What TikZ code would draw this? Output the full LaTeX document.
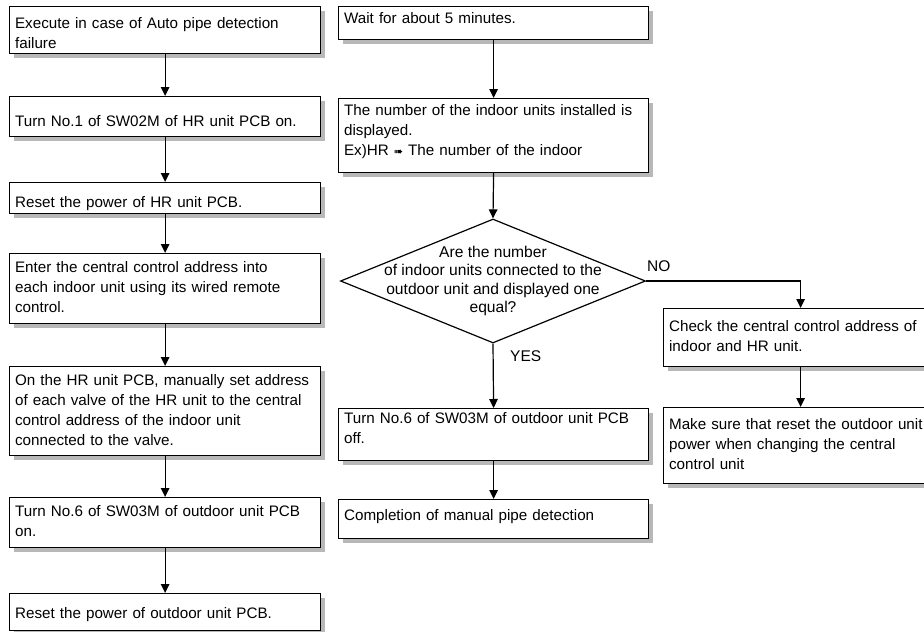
\documentclass[tikz,border=0pt]{standalone}
\usepackage{fontspec}
\setmainfont{Liberation Sans}
\newfontfamily\symfont{DejaVu Sans}
\usetikzlibrary{shapes.geometric,shadows,arrows.meta}
\newcommand\boxlines[2][0pt]{\raisebox{#1}[\height][\depth]{\begin{tabular}{@{}l@{}}#2\end{tabular}}}
\begin{document}
\begin{tikzpicture}[x=1pt,y=-1pt,
  box/.style={draw, line width=1.2pt, fill=white, inner xsep=5.5pt, inner ysep=0pt,
    align=left, anchor=north west,
    drop shadow={shadow xshift=4pt, shadow yshift=-4pt, fill=black!28, opacity=1},
    font=\fontsize{15.2}{20}\selectfont},
  lbox/.style={box, minimum width=311pt, text width=300pt},
  mbox/.style={box, minimum width=310pt, text width=299pt},
  rbox/.style={box, minimum width=274pt, text width=263pt},
  arr/.style={line width=1.2pt, -{Triangle[length=9pt,width=8.5pt]}},
  lbl/.style={font=\fontsize{15.5}{19}\selectfont, inner sep=0pt}
]
\useasboundingbox (0,0) rectangle (924,632);
% left column
\node[lbox, minimum height=47pt] (b1) at (9,6) {\boxlines[-4pt]{Execute in case of Auto pipe detection\\failure}};
\node[lbox, minimum height=40pt] (b2) at (9,96) {\boxlines[-6pt]{Turn No.1 of SW02M of HR unit PCB on.}};
\node[lbox, minimum height=31pt] (b3) at (9,182) {\boxlines[-5pt]{Reset the power of HR unit PCB.}};
\node[lbox, minimum height=70pt] (b4) at (9,253) {\boxlines{Enter the central control address into\\each indoor unit using its wired remote\\control.}};
\node[lbox, minimum height=89pt] (b5) at (9,366) {\boxlines{On the HR unit PCB, manually set address\\of each valve of the HR unit to the central\\control address of the indoor unit\\connected to the valve.}};
\node[lbox, minimum height=50pt] (b6) at (9,497) {\boxlines{Turn No.6 of SW03M of outdoor unit PCB\\on.}};
\node[lbox, minimum height=37pt] (b7) at (9,593) {\boxlines[-2.5pt]{Reset the power of outdoor unit PCB.}};
% middle column
\node[mbox, minimum height=33pt] (m1) at (338,6) {\boxlines[3.5pt]{Wait for about 5 minutes.}};
\node[mbox, minimum height=74pt] (m2) at (338,98) {\boxlines[4pt]{The number of the indoor units installed is\\displayed.\\Ex)HR {\symfont\fontsize{11}{11}\selectfont ➠} The number of the indoor}};
\node[diamond, draw, line width=1.2pt, fill=white, minimum width=305pt, minimum height=124pt, inner sep=0pt] (dec) at (493,281) {};
\node[align=center, inner sep=0pt, font=\fontsize{15.6}{18.5}\selectfont] (dect) at (dec.center) {Are the number\\of indoor units connected to the\\outdoor unit and displayed one\\equal?};
\node[mbox, minimum height=52pt] (m3) at (338,408) {\boxlines[5pt]{Turn No.6 of SW03M of outdoor unit PCB\\off.}};
\node[mbox, minimum height=39pt] (m4) at (338,499) {\boxlines[2.5pt]{Completion of manual pipe detection}};
% right column
\node[rbox, minimum height=58pt] (r1) at (663,308) {\boxlines{Check the central control address of\\indoor and HR unit.}};
\node[rbox, minimum height=76pt] (r2) at (663,407) {\boxlines{Make sure that reset the outdoor unit\\power when changing the central\\control unit}};
% labels
\node[lbl, anchor=south west] (no) at (647,272) {NO};
\node[lbl, anchor=west] (yes) at (510,356) {YES};
% connectors
\draw[arr] (b1.south) -- (b2.north);
\draw[arr] (b2.south) -- (b3.north);
\draw[arr] (b3.south) -- (b4.north);
\draw[arr] (b4.south) -- (b5.north);
\draw[arr] (b5.south) -- (b6.north);
\draw[arr] (b6.south) -- (b7.north);
\draw[arr] (m1.south) -- (m2.north);
\draw[arr] (m2.south) -- (dec.north);
\draw[arr] (dec.south) -- (m3.north);
\draw[arr] (m3.south) -- (m4.north);
\draw[arr] (dec.east) -| (r1.north);
\draw[arr] (r1.south) -- (r2.north);
\end{tikzpicture}
\end{document}
